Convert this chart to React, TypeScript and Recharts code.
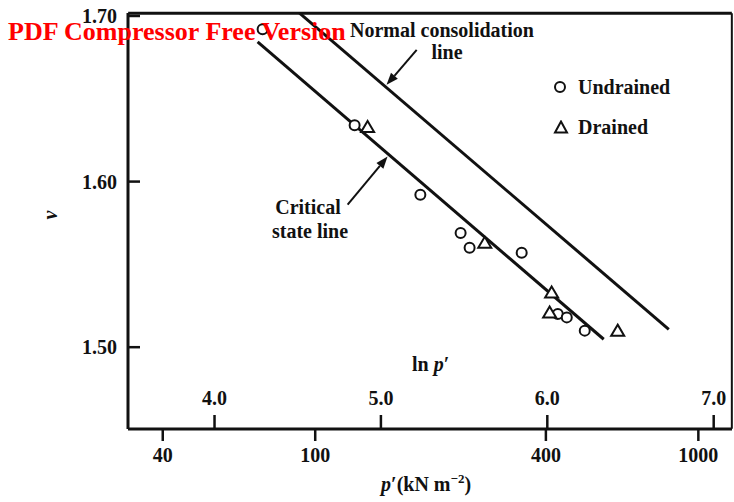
import {
  ComposedChart,
  Scatter,
  XAxis,
  YAxis,
  Legend,
  ReferenceLine,
} from "recharts";

// ln p' values and specific volumes
const undrainedLnP = [4.289, 4.842, 5.237, 5.479, 5.533, 5.846, 6.063, 6.117, 6.225];
const undrainedV = [1.692, 1.634, 1.592, 1.569, 1.56, 1.557, 1.52, 1.518, 1.51];
const drainedLnP = [4.92, 5.624, 6.026, 6.014, 6.423];
const drainedV = [1.633, 1.563, 1.533, 1.521, 1.51];

// straight lines (end points)
const nclLnP = [4.511, 6.73];
const nclV = [1.7017, 1.5108];
const cslLnP = [4.259, 6.339];
const cslV = [1.6843, 1.5048];

// annotation arrows (from -> to)
const nclArrowLnP = [5.215, 5.034];
const nclArrowV = [1.6795, 1.6584];
const cslArrowLnP = [4.8, 5.04];
const cslArrowV = [1.5861, 1.6151];

const lnTicks = [4.0, 5.0, 6.0, 7.0];
const pTicks = [40, 100, 400, 1000];
const vTicks = [1.5, 1.6, 1.7];

const xDomain: [number, number] = [3.48, 7.11];
const yDomain: [number, number] = [1.4506, 1.7018];

const zip = (xs: number[], ys: number[]) => xs.map((x, i) => ({ lnp: x, v: ys[i] }));

const undrained = zip(undrainedLnP, undrainedV);
const drained = zip(drainedLnP, drainedV);
const ncl = zip(nclLnP, nclV);
const csl = zip(cslLnP, cslV);

// frame edges, every end kept a hair inside the domain so none is discarded
const frameTop = [
  { x: xDomain[0] + 0.001, y: yDomain[1] - 0.0001 },
  { x: xDomain[1] - 0.001, y: yDomain[1] - 0.0001 },
];
const frameRight = [
  { x: xDomain[1] - 0.001, y: yDomain[0] + 0.0001 },
  { x: xDomain[1] - 0.001, y: yDomain[1] - 0.0001 },
];

const INK = "#111";
const FONT = "'Liberation Serif', 'Times New Roman', serif";

const CircleMark = (props: any) => (
  <circle cx={props.cx} cy={props.cy} r={5} fill="#fff" stroke={INK} strokeWidth={2} />
);

const TriangleMark = (props: any) => {
  const { cx, cy } = props;
  return (
    <path
      d={`M${cx},${cy - 6} L${cx + 6.5},${cy + 5} L${cx - 6.5},${cy + 5} Z`}
      fill="#fff"
      stroke={INK}
      strokeWidth={2}
    />
  );
};

const NoMark = () => <g />;

const FrameLine = (props: any) => (
  <line x1={props.x1} y1={props.y1} x2={props.x2} y2={props.y2} stroke={INK} strokeWidth={props.w ?? 3} />
);

const Arrow = (props: any) => {
  const { x1, y1, x2, y2 } = props;
  const a = Math.atan2(y2 - y1, x2 - x1);
  const len = 12;
  const w = 4.5;
  const bx = x2 - len * Math.cos(a);
  const by = y2 - len * Math.sin(a);
  const px = -Math.sin(a) * w;
  const py = Math.cos(a) * w;
  return (
    <g>
      <line x1={x1} y1={y1} x2={bx} y2={by} stroke={INK} strokeWidth={2} />
      <path d={`M${x2},${y2} L${bx + px},${by + py} L${bx - px},${by - py} Z`} fill={INK} />
    </g>
  );
};

const LnTick = (props: any) => {
  const { x, y, payload } = props;
  return (
    <g>
      <line x1={x} y1={y} x2={x} y2={y - 14} stroke={INK} strokeWidth={2.5} />
      <text x={x} y={y - 24} textAnchor="middle" fontFamily={FONT} fontWeight="bold" fontSize={20} fill={INK}>
        {Number(payload.value).toFixed(1)}
      </text>
    </g>
  );
};

const PTick = (props: any) => {
  const { x, y, payload } = props;
  return (
    <g>
      <line x1={x} y1={y - 1} x2={x} y2={y + 11} stroke={INK} strokeWidth={2.5} />
      <text x={x} y={y + 32} textAnchor="middle" fontFamily={FONT} fontWeight="bold" fontSize={20} fill={INK}>
        {Math.round(Math.exp(payload.value))}
      </text>
    </g>
  );
};

const VTick = (props: any) => {
  const { x, y, payload } = props;
  return (
    <g>
      <line x1={x} y1={y} x2={x + 12} y2={y} stroke={INK} strokeWidth={2.5} />
      <text x={x - 11} y={y + 7} textAnchor="end" fontFamily={FONT} fontWeight="bold" fontSize={20} fill={INK}>
        {Number(payload.value).toFixed(2)}
      </text>
    </g>
  );
};

const LegendBox = () => (
  <div style={{ fontFamily: FONT, fontWeight: "bold", fontSize: 20, color: INK, lineHeight: "40px" }}>
    <div style={{ display: "flex", alignItems: "center" }}>
      <svg width={18} height={14} style={{ marginRight: 8 }}>
        <circle cx={8} cy={7} r={5} fill="#fff" stroke={INK} strokeWidth={2} />
      </svg>
      Undrained
    </div>
    <div style={{ display: "flex", alignItems: "center" }}>
      <svg width={18} height={14} style={{ marginRight: 8 }}>
        <path d="M9,1.5 L15,12.5 L3,12.5 Z" fill="#fff" stroke={INK} strokeWidth={2} />
      </svg>
      Drained
    </div>
  </div>
);

const txt = { fontFamily: FONT, fontWeight: "bold" as const, fontSize: 20, fill: INK };

export default function App() {
  return (
    <div style={{ position: "absolute", left: 0, top: 0, width: 734, height: 502, background: "#fff" }}>
      <ComposedChart width={734} height={502} margin={{ top: 13, right: 2, bottom: 71, left: 0 }}>
        <XAxis
          dataKey="lnp"
          type="number"
          domain={xDomain}
          allowDataOverflow
          ticks={lnTicks}
          interval={0}
          height={1}
          tickSize={0}
          tickMargin={0}
          tick={<LnTick />}
          axisLine={{ stroke: INK, strokeWidth: 3 }}
          tickLine={false}
        />
        <XAxis
          xAxisId="p"
          dataKey="lnp"
          type="number"
          domain={xDomain}
          allowDataOverflow
          ticks={pTicks.map((p) => Math.log(p))}
          interval={0}
          height={1}
          tickSize={0}
          tickMargin={0}
          tick={<PTick />}
          axisLine={false}
          tickLine={false}
        />
        <YAxis
          dataKey="v"
          type="number"
          domain={yDomain}
          allowDataOverflow
          ticks={vTicks}
          interval={0}
          width={128}
          tickSize={0}
          tickMargin={0}
          tick={<VTick />}
          axisLine={{ stroke: INK, strokeWidth: 3 }}
          tickLine={false}
        />
        <ReferenceLine segment={frameTop} shape={<FrameLine w={3} />} />
        <ReferenceLine segment={frameRight} shape={<FrameLine w={2} />} />
        <Scatter
          name="ncl"
          data={ncl}
          dataKey="v"
          xAxisId="p"
          line={{ stroke: INK, strokeWidth: 3 }}
          shape={<NoMark />}
          legendType="none"
          isAnimationActive={false}
        />
        <Scatter
          name="csl"
          data={csl}
          dataKey="v"
          line={{ stroke: INK, strokeWidth: 3 }}
          shape={<NoMark />}
          legendType="none"
          isAnimationActive={false}
        />
        <ReferenceLine
          segment={zip(nclArrowLnP, nclArrowV).map((d) => ({ x: d.lnp, y: d.v }))}
          shape={<Arrow />}
        />
        <ReferenceLine
          segment={zip(cslArrowLnP, cslArrowV).map((d) => ({ x: d.lnp, y: d.v }))}
          shape={<Arrow />}
        />
        <Scatter name="Undrained" data={undrained} dataKey="v" shape={<CircleMark />} isAnimationActive={false} />
        <Scatter name="Drained" data={drained} dataKey="v" shape={<TriangleMark />} isAnimationActive={false} />
        <Legend
          layout="vertical"
          align="center"
          verticalAlign="middle"
          content={<LegendBox />}
          wrapperStyle={{ left: 552, top: 67, width: "auto", bottom: "auto" }}
        />
      </ComposedChart>
      <svg
        width={734}
        height={502}
        style={{ position: "absolute", left: 0, top: 0, pointerEvents: "none" }}
      >
        <text x={350} y={37} {...txt}>Normal consolidation</text>
        <text x={447} y={59} textAnchor="middle" {...txt}>line</text>
        <text x={308} y={214} textAnchor="middle" {...txt}>Critical</text>
        <text x={310} y={238} textAnchor="middle" {...txt}>state line</text>
        <text x={412} y={371} {...txt}>
          ln <tspan fontStyle="italic">p</tspan>′
        </text>
        <text x={381} y={491} {...txt}>
          <tspan fontStyle="italic">p</tspan>′(kN m<tspan dy={-8} fontSize={13}>−2</tspan>
          <tspan dy={8}>)</tspan>
        </text>
        <text
          x={57}
          y={215}
          transform="rotate(-90 57 215)"
          textAnchor="middle"
          {...txt}
          fontStyle="italic"
        >
          v
        </text>
        <text x={8} y={40} fontFamily={FONT} fontWeight="bold" fontSize={26} fill="#f00">
          PDF Compressor Free Version
        </text>
      </svg>
    </div>
  );
}
